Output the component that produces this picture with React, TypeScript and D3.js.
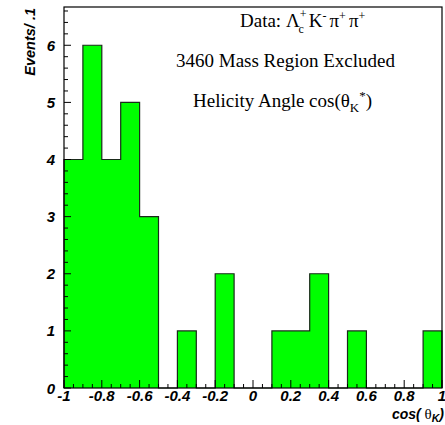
import React from "react";
import * as d3 from "d3";

const binStarts = [-1.0, -0.9, -0.8, -0.7, -0.6, -0.5, -0.4, -0.3, -0.2, -0.1, 0.0, 0.1, 0.2, 0.3, 0.4, 0.5, 0.6, 0.7, 0.8, 0.9];
const counts = [4, 6, 4, 5, 3, 0, 1, 0, 2, 0, 0, 1, 1, 2, 0, 1, 0, 0, 0, 1];
const binWidth = 0.1;
const xMajorTicks = [-1, -0.8, -0.6, -0.4, -0.2, 0, 0.2, 0.4, 0.6, 0.8, 1];
const xTickLabels = ["-1", "-0.8", "-0.6", "-0.4", "-0.2", "0", "0.2", "0.4", "0.6", "0.8", "1"];
const yMajorTicks = [0, 1, 2, 3, 4, 5, 6];

const W = 445, H = 425;
const L = 64, R = 442, T = 7, B = 388;

export default function App() {
  const x = d3.scaleLinear().domain([-1, 1]).range([L, R]);
  const y = d3.scaleLinear().domain([0, 6.67]).range([B, T]);

  const pts = binStarts.map((s, i) => ({ x: s, y: counts[i] }));
  pts.push({ x: binStarts[binStarts.length - 1] + binWidth, y: counts[counts.length - 1] });

  const area = d3.area<{ x: number; y: number }>()
    .x(d => x(d.x)).y0(y(0)).y1(d => y(d.y)).curve(d3.curveStepAfter);
  const outline = (() => {
    let d = `M${x(-1)},${y(0)}`;
    binStarts.forEach((s, i) => {
      d += `L${x(s)},${y(counts[i])}L${x(s + binWidth)},${y(counts[i])}`;
    });
    d += `L${x(1)},${y(0)}`;
    return d;
  })();

  const xMinor = d3.range(-1, 1.0001, 0.05).map(v => Math.round(v * 100) / 100);
  const yMinor = d3.range(0, 6.61, 0.2).map(v => Math.round(v * 10) / 10);

  const sans = "'Liberation Sans', Arial, sans-serif";
  const serif = "'Liberation Serif', 'Times New Roman', serif";

  return (
    <svg width={W} height={H} style={{ position: "absolute", left: 0, top: 0, background: "#fff" }}>
      <path d={area(pts) || ""} fill="#00ff00" stroke="none" />
      <path d={outline} fill="none" stroke="#1a2a1a" strokeWidth={1.2} />
      <rect x={L} y={T} width={R - L} height={B - T} fill="none" stroke="#000" strokeWidth={1.2} />
      {xMinor.map((v, i) => {
        const major = xMajorTicks.some(m => Math.abs(m - v) < 1e-6);
        return <line key={"xm" + i} x1={x(v)} x2={x(v)} y1={B} y2={B - (major ? 8 : 4)} stroke="#000" strokeWidth={1} />;
      })}
      {xMajorTicks.map((v, i) => (
        <text key={"xl" + i} x={x(v)} y={401} textAnchor="middle" fontFamily={sans} fontWeight="bold" fontStyle="italic" fontSize={15}>
          {xTickLabels[i]}
        </text>
      ))}
      {yMinor.map((v, i) => {
        const major = yMajorTicks.some(m => Math.abs(m - v) < 1e-6);
        return <line key={"ym" + i} x1={L} x2={L + (major ? 7 : 4)} y1={y(v)} y2={y(v)} stroke="#000" strokeWidth={1} />;
      })}
      {yMajorTicks.map((v, i) => (
        <text key={"yl" + i} x={55} y={y(v) + 5.5} textAnchor="end" fontFamily={sans} fontWeight="bold" fontStyle="italic" fontSize={15}>
          {String(v)}
        </text>
      ))}
      <text transform={`translate(35,8) rotate(-90)`} textAnchor="end" fontFamily={sans} fontWeight="bold" fontStyle="italic" fontSize={14.5}>
        Events/ .1
      </text>
      <text x={444} y={419} textAnchor="end" fontFamily={sans} fontWeight="bold" fontStyle="italic" fontSize={14}>
        cos(<tspan fontFamily={serif} fontWeight="normal" fontStyle="normal" fontSize={15}> θ</tspan>
        <tspan dy={3} fontSize={10.5}>K</tspan>
        <tspan dy={-3}>)</tspan>
      </text>
      <g fontFamily={serif} fontSize={19} fill="#000">
        <text x={240} y={27}>
          Data: Λ
          <tspan dy={-9} fontSize={12}>+</tspan>
          <tspan dx={-8} dy={15} fontSize={12}>c</tspan>
          <tspan dx={5} dy={-6}>K</tspan>
          <tspan dy={-7} fontSize={12}>-</tspan>
          <tspan dx={3} dy={7}>π</tspan>
          <tspan dy={-7} fontSize={12}>+</tspan>
          <tspan dx={3} dy={7}>π</tspan>
          <tspan dy={-7} fontSize={12}>+</tspan>
        </text>
        <text x={176} y={67}>3460 Mass Region Excluded</text>
        <text x={193} y={107}>
          Helicity Angle cos(θ
          <tspan dy={5} fontSize={13}>K</tspan>
          <tspan dy={-12} fontSize={13}>*</tspan>
          <tspan dy={7}>)</tspan>
        </text>
      </g>
    </svg>
  );
}
